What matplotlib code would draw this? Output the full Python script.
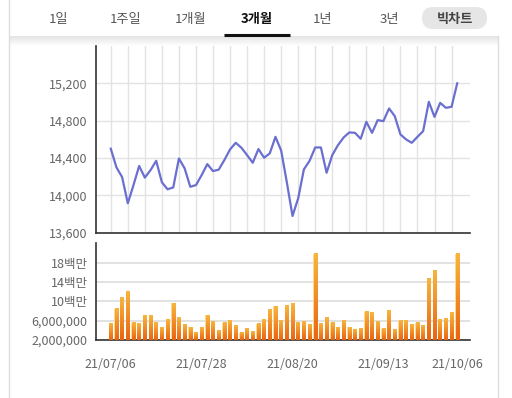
import numpy as np
import matplotlib
matplotlib.use("Agg")
import matplotlib.pyplot as plt
from matplotlib.patches import FancyBboxPatch
from matplotlib.colors import LinearSegmentedColormap

plt.rcParams['font.family'] = ['Noto Sans CJK KR', 'DejaVu Sans']

# 62 trading days, 21/07/06 .. 21/10/06
tab_labels = ["1일", "1주일", "1개월", "3개월", "1년", "3년"]
date_ticks = {0: "21/07/06", 16: "21/07/28", 32: "21/08/20", 48: "21/09/13", 61: "21/10/06"}

price = [14500, 14300, 14195, 13915, 14110, 14315, 14190, 14270, 14370, 14140,
         14065, 14085, 14395, 14290, 14092, 14110, 14217, 14335, 14260, 14275,
         14378, 14492, 14563, 14510, 14431, 14349, 14496, 14403, 14450, 14627,
         14480, 14140, 13779, 13968, 14278, 14370, 14513, 14513, 14242, 14431,
         14538, 14620, 14674, 14670, 14606, 14788, 14670, 14806, 14795, 14931,
         14849, 14653, 14599, 14563, 14627, 14688, 15002, 14841, 14991, 14938,
         14948, 15200]

volume_m = [5.32, 8.49, 10.77, 12.09, 5.52, 5.32, 7.12, 7.12, 5.52, 4.63,
            6.15, 9.61, 6.71, 5.11, 4.63, 3.45, 4.63, 7.12, 5.73, 3.93,
            5.52, 5.94, 4.90, 3.45, 4.34, 3.66, 5.32, 6.15, 8.22, 8.99,
            5.94, 9.19, 9.61, 5.52, 5.73, 5.11, 19.83, 5.32, 6.71, 5.52,
            4.63, 5.94, 4.63, 4.14, 4.34, 7.80, 7.60, 5.73, 4.34, 8.01,
            4.14, 5.94, 5.94, 5.11, 5.52, 4.90, 14.71, 16.30, 6.15, 6.50,
            7.60, 19.83]

price_ticks = [13600, 14000, 14400, 14800, 15200]
vol_ticks = [2e6, 6e6, 10e6, 14e6, 18e6]
vol_tick_labels = ["2,000,000", "6,000,000", "10백만", "14백만", "18백만"]

W, H = 512, 398
fig = plt.figure(figsize=(W / 100, H / 100), dpi=100)
fig.patch.set_facecolor("white")

# header / page frame
bg = fig.add_axes([0, 0, 1, 1])
bg.set_xlim(0, W)
bg.set_ylim(H, 0)
bg.axis("off")
shade = np.linspace(0, 1, 50).reshape(-1, 1)
bg.imshow(shade, cmap=LinearSegmentedColormap.from_list("s", ["#e4e4e4", "#ffffff"]),
          extent=(9, 498, 46, 36), aspect="auto", zorder=0)
bg.plot([9, 9], [0, H], color="#dddddd", lw=1)
bg.plot([498, 498], [36, H], color="#dddddd", lw=1)
tab_x = [59, 126, 191, 257, 323, 389]
for x, t in zip(tab_x, tab_labels):
    sel = t == "3개월"
    bg.text(x, 19.5, t, ha="center", va="center", fontsize=9.5,
            color="#111111" if sel else "#555555",
            fontweight="bold" if sel else "normal")
bg.plot([224, 290], [34.5, 34.5], color="#111111", lw=2.2, solid_capstyle="butt")
bg.add_patch(FancyBboxPatch((422, 7), 65, 22, boxstyle="round,pad=0,rounding_size=11",
                            fc="#e6e6e6", ec="none"))
bg.text(455, 18.5, "빅차트", ha="center", va="center", fontsize=9.5,
        color="#444444", fontweight="bold")

n = len(price)
idx = np.arange(n)
left, right = 96 / W, 470 / W
ax1 = fig.add_axes([left, 1 - 232.7 / H, right - left, (232.7 - 46) / H])
ax2 = fig.add_axes([left, 1 - 340 / H, right - left, (340 - 243.3) / H])

xlim = (-2.6, n - 1 + 2.25)

# price chart
ax1.plot(idx, price, color="#6a6fd0", lw=1.6, zorder=3)
ax1.set_xlim(*xlim)
ax1.set_ylim(13600, 15600)
ax1.set_yticks(price_ticks)
ax1.set_yticklabels([f"{v:,}" for v in price_ticks])
ax1.set_xticks(idx[::3])
ax1.tick_params(axis="x", labelbottom=False, length=0)
ax1.grid(True, color="#e3e3e3", lw=1)
ax1.set_axisbelow(True)

# volume chart
vol = np.array(volume_m) * 1e6
grad = np.linspace(1, 0, 100).reshape(-1, 1)
cmap = LinearSegmentedColormap.from_list("o", ["#ea6410", "#f7b53f"])
bw = 0.6
for i, v in zip(idx, vol):
    ax2.imshow(grad, cmap=cmap, vmin=0, vmax=1, aspect="auto",
               extent=(i - bw / 2, i + bw / 2, 2e6, v), zorder=3)
ax2.bar(idx, vol, width=bw + 0.1, color="#fcd98e", zorder=2)
ax2.set_xlim(*xlim)
ax2.set_ylim(2e6, 22e6)
ax2.set_yticks(vol_ticks)
ax2.set_yticklabels(vol_tick_labels)
ax2.set_xticks(list(date_ticks.keys()))
ax2.set_xticklabels(list(date_ticks.values()))
ax2.grid(True, axis="y", color="#dddddd", lw=1.2)
ax2.set_axisbelow(True)

for ax in (ax1, ax2):
    ax.set_facecolor("none")
    for s in ("top", "right"):
        ax.spines[s].set_visible(False)
    for s in ("left", "bottom"):
        ax.spines[s].set_color("#333333")
        ax.spines[s].set_linewidth(1.2)
    ax.tick_params(length=0, labelsize=9, colors="#666666")
    ax.tick_params(axis="y", pad=6)
ax2.tick_params(axis="x", pad=13)

fig.savefig("out.png", dpi=100)
